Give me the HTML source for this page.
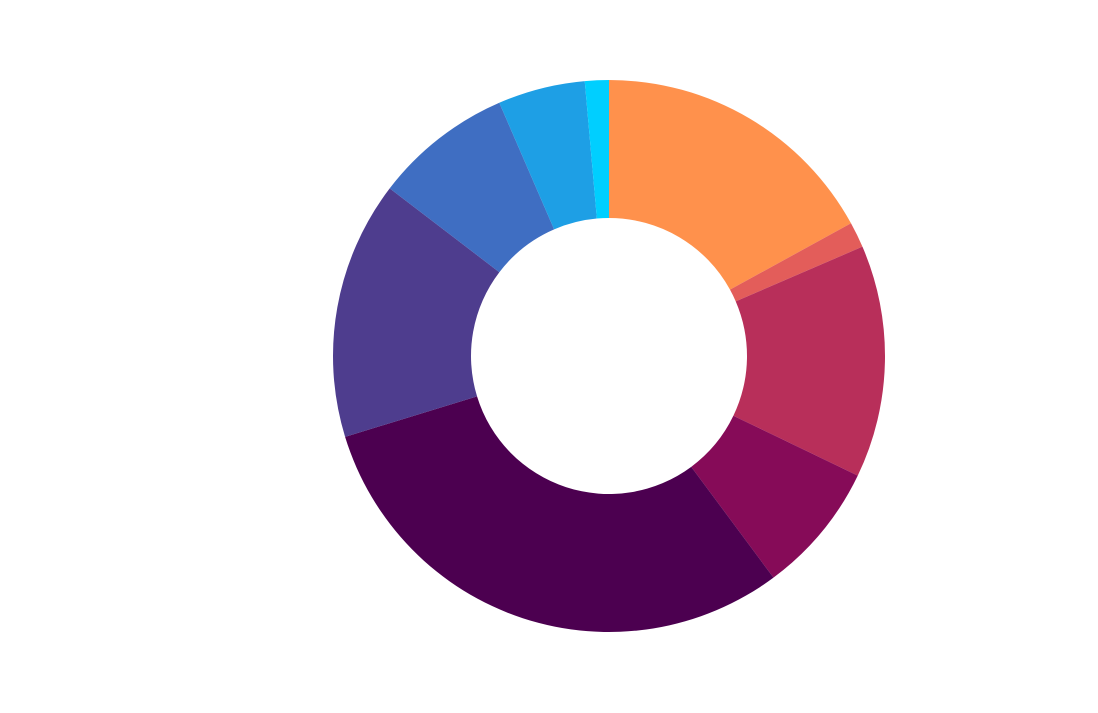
<!DOCTYPE html>
<html>
<head>
<meta charset="utf-8">
<style>
  html,body{margin:0;padding:0;background:#fff;}
  body{width:1098px;height:708px;overflow:hidden;font-family:"Liberation Sans",sans-serif;}
</style>
</head>
<body>
<svg id="chart" width="1098" height="708" viewBox="0 0 1098 708"></svg>
<script>
const categories = ["a","b","c","d","e","f","g","h","i"];
const values = [17.0, 1.5, 13.6, 7.7, 30.4, 15.1, 8.1, 5.1, 1.4];
const colors = ["#ff914c","#e35d5a","#b82f5a","#860b58","#4c0050","#4e3d8e","#3f6ec2","#1e9fe5","#00cfff"];

const svg = document.getElementById('chart');
const cx = 609, cy = 356, R = 276, r = 138;
const total = values.reduce((a,b)=>a+b,0);
function pt(rad, ang){ return [cx + rad*Math.sin(ang), cy - rad*Math.cos(ang)]; }
let a0 = 0;
values.forEach((v,i)=>{
  const a1 = a0 + v/total*2*Math.PI;
  const large = (a1-a0) > Math.PI ? 1 : 0;
  const [x0,y0] = pt(R,a0), [x1,y1] = pt(R,a1), [x2,y2] = pt(r,a1), [x3,y3] = pt(r,a0);
  const p = document.createElementNS('http://www.w3.org/2000/svg','path');
  p.setAttribute('d', `M${x0},${y0} A${R},${R} 0 ${large} 1 ${x1},${y1} L${x2},${y2} A${r},${r} 0 ${large} 0 ${x3},${y3} Z`);
  p.setAttribute('fill', colors[i]);
  
  
  svg.appendChild(p);
  a0 = a1;
});
</script>
</body>
</html>
